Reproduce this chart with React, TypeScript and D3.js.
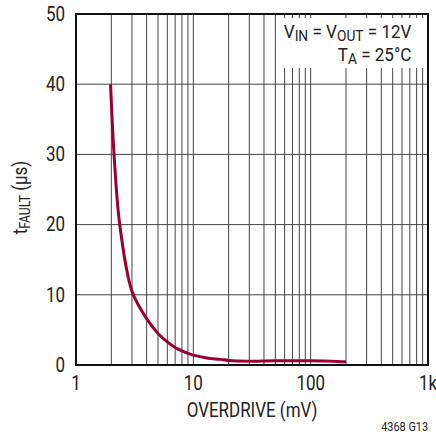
import * as d3 from 'd3';
import type { ReactNode } from 'react';

const overdrive = [1.97, 2.11, 2.36, 3, 4, 5, 6, 7, 8, 9, 10, 13, 17, 20, 30, 50, 100, 150, 200];
const tFault = [40, 30, 20, 10.5, 6.6, 4.5, 3.3, 2.5, 2.0, 1.65, 1.4, 1.0, 0.8, 0.65, 0.55, 0.6, 0.6, 0.55, 0.45];

const xTicks = [1, 10, 100, 1000];
const xTickLabels = ['1', '10', '100', '1k'];
const yTicks = [0, 10, 20, 30, 40, 50];

const W = 436;
const H = 436;
const margin = { top: 14, right: 8, bottom: 71, left: 76 };
const FONT = 'Roboto, "Liberation Sans", sans-serif';

// narrow-ish text: larger glyphs squeezed horizontally
function Label({
  x,
  y,
  anchor = 'start',
  size = 19.5,
  sx = 0.87,
  rotate = 0,
  children,
}: {
  x: number;
  y: number;
  anchor?: 'start' | 'middle' | 'end';
  size?: number;
  sx?: number;
  rotate?: number;
  children: ReactNode;
}) {
  return (
    <text
      transform={`translate(${x},${y}) rotate(${rotate}) scale(${sx},1)`}
      textAnchor={anchor}
      fontFamily={FONT}
      fontSize={size}
      fill="#222"
    >
      {children}
    </text>
  );
}

export default function App() {
  const innerW = W - margin.left - margin.right;
  const innerH = H - margin.top - margin.bottom;

  const x = d3.scaleLog().domain([1, 1000]).range([0, innerW]);
  const y = d3.scaleLinear().domain([0, 50]).range([innerH, 0]);

  // every 1..9 line in each decade
  const gridX: number[] = [];
  for (let d = 1; d < 1000; d *= 10) {
    for (let k = 2; k <= 9; k++) gridX.push(d * k);
  }
  gridX.push(10, 100);

  const line = d3
    .line<number>()
    .x((_, i) => x(overdrive[i]))
    .y((d) => y(d))
    .curve(d3.curveCatmullRom.alpha(0.5));

  return (
    <svg width={W} height={H} style={{ position: 'fixed', left: 0, top: 0, background: '#fff' }}>
      <g transform={`translate(${margin.left},${margin.top})`}>
        {gridX.map((v) => (
          <line key={'gx' + v} x1={x(v)} x2={x(v)} y1={0} y2={innerH} stroke="#444" strokeWidth={1} />
        ))}
        {yTicks.slice(1, -1).map((v) => (
          <line key={'gy' + v} x1={0} x2={innerW} y1={y(v)} y2={y(v)} stroke="#444" strokeWidth={1} />
        ))}

        {/* annotation box */}
        <rect x={206} y={4} width={144} height={50} fill="#fff" />
        <Label x={335.5} y={24} anchor="end" size={18} sx={0.95}>
          V<tspan fontSize={14.5} dy={3}>IN</tspan>
          <tspan dy={-3}> = V</tspan>
          <tspan fontSize={14.5} dy={3}>OUT</tspan>
          <tspan dy={-3}> = 12V</tspan>
        </Label>
        <Label x={335.5} y={46.5} anchor="end" size={18} sx={0.95}>
          T<tspan fontSize={14.5} dy={3}>A</tspan>
          <tspan dy={-3}> = 25°C</tspan>
        </Label>

        <path d={line(tFault) ?? ''} fill="none" stroke="#99002e" strokeWidth={3} />

        <rect x={0} y={0} width={innerW} height={innerH} fill="none" stroke="#111" strokeWidth={2} />

        {yTicks.map((v) => (
          <Label key={'ty' + v} x={-11} y={y(v) + 6.8} anchor="end">
            {v}
          </Label>
        ))}
        {xTicks.map((v, i) => (
          <Label key={'tx' + v} x={x(v)} y={innerH + 24.5} anchor="middle">
            {xTickLabels[i]}
          </Label>
        ))}

        <Label x={innerW / 2} y={innerH + 52} anchor="middle">
          OVERDRIVE (mV)
        </Label>
        <Label x={-49} y={innerH / 2 + 8} anchor="middle" rotate={-90}>
          t<tspan fontSize={14} dy={3}>FAULT</tspan>
          <tspan dy={-3}> (µs)</tspan>
        </Label>
        <Label x={innerW} y={innerH + 66} anchor="end" size={12.5}>
          4368 G13
        </Label>
      </g>
    </svg>
  );
}
